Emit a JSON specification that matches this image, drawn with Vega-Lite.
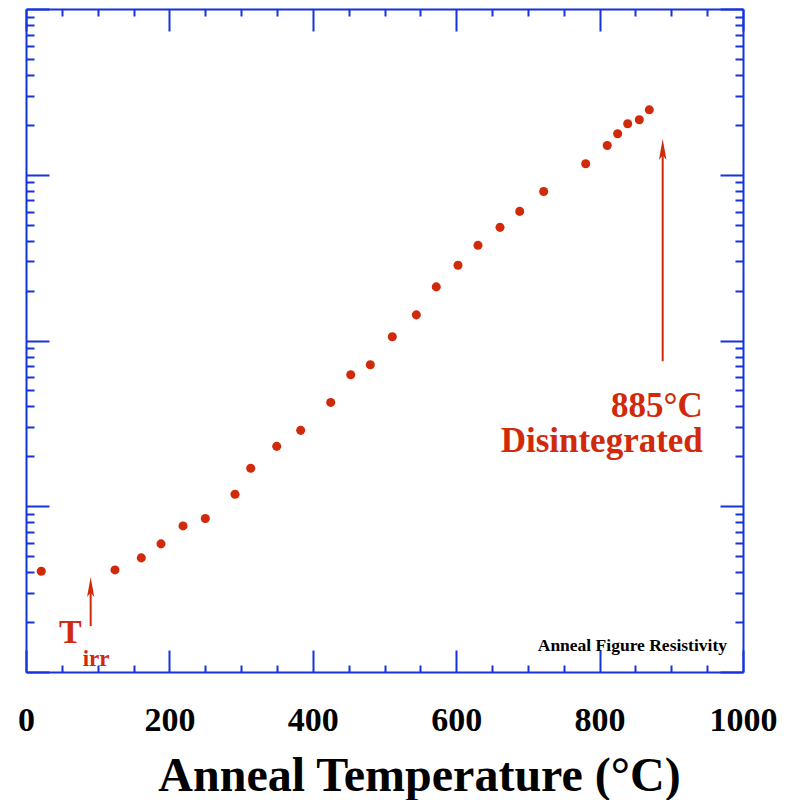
{
  "$schema": "https://vega.github.io/schema/vega-lite/v6.json",
  "autosize": {"type": "none"},
  "padding": {"left": 26, "top": 9, "right": 53, "bottom": 128},
  "width": 717,
  "height": 663,
  "background": "white",
  "config": {
    "view": {"stroke": null},
    "axis": {
      "grid": false,
      "domainColor": "#1533dd",
      "domainWidth": 2,
      "tickColor": "#1533dd",
      "tickWidth": 2,
      "labelFont": "Liberation Serif",
      "labelFontWeight": "bold",
      "labelColor": "black",
      "titleFont": "Liberation Serif",
      "titleFontWeight": "bold",
      "titleColor": "black"
    }
  },
  "resolve": {"axis": {"x": "independent", "y": "independent"}},
  "layer": [
    {
      "data": {
        "values": [
          {"temperature": 21.3, "resistivity": 4.05},
          {"temperature": 124.1, "resistivity": 4.13},
          {"temperature": 160.8, "resistivity": 4.88},
          {"temperature": 188.3, "resistivity": 5.93},
          {"temperature": 219, "resistivity": 7.61},
          {"temperature": 250.1, "resistivity": 8.43},
          {"temperature": 291.5, "resistivity": 11.81},
          {"temperature": 313.4, "resistivity": 16.94},
          {"temperature": 349.7, "resistivity": 22.98},
          {"temperature": 383.1, "resistivity": 28.7},
          {"temperature": 425, "resistivity": 42.31},
          {"temperature": 452.9, "resistivity": 62.14},
          {"temperature": 480.2, "resistivity": 71.38},
          {"temperature": 510.9, "resistivity": 105.3},
          {"temperature": 544.4, "resistivity": 142.8},
          {"temperature": 572.2, "resistivity": 210.6},
          {"temperature": 602.5, "resistivity": 284.2},
          {"temperature": 630.4, "resistivity": 375.1},
          {"temperature": 661.1, "resistivity": 481.5},
          {"temperature": 688.6, "resistivity": 601},
          {"temperature": 722, "resistivity": 793},
          {"temperature": 780.6, "resistivity": 1165},
          {"temperature": 810.7, "resistivity": 1501},
          {"temperature": 825.2, "resistivity": 1766},
          {"temperature": 839.2, "resistivity": 2029},
          {"temperature": 855.4, "resistivity": 2145},
          {"temperature": 869.3, "resistivity": 2464}
        ]
      },
      "mark": {"type": "circle", "size": 82, "color": "#d12a0b", "opacity": 1},
      "encoding": {
        "x": {
          "field": "temperature", "type": "quantitative",
          "scale": {"domain": [0, 1000], "nice": false, "zero": false},
          "axis": {
            "orient": "bottom",
            "values": [0,50,100,150,200,250,300,350,400,450,500,550,600,650,700,750,800,850,900,950,1000],
            "tickSize": {"condition": {"test": "datum.value % 200 === 0", "value": -22}, "value": -7},
            "format": "d",
            "labelExpr": "datum.value % 200 === 0 ? datum.label : ''",
            "labelFontSize": 34,
            "labelPadding": 53,
            "labelFlush": false,
            "labelOverlap": false,
            "title": "Anneal Temperature (°C)",
            "titleFontSize": 48,
            "titleX": 393,
            "titleY": 118,
            "titleAlign": "center",
            "titleBaseline": "alphabetic"
          }
        },
        "y": {
          "field": "resistivity", "type": "quantitative",
          "scale": {"type": "log", "domain": [1, 10000], "nice": false},
          "axis": {
            "orient": "left",
            "values": [1,2,3,4,5,6,7,8,9,10,20,30,40,50,60,70,80,90,100,200,300,400,500,600,700,800,900,1000,2000,3000,4000,5000,6000,7000,8000,9000,10000],
            "tickSize": {"condition": {"test": "datum.value == 1 || datum.value == 10 || datum.value == 100 || datum.value == 1000 || datum.value == 10000", "value": -23}, "value": -8},
            "labels": false,
            "title": null
          }
        }
      }
    },
    {
      "data": {"values": [{}]},
      "mark": {"type": "rule", "color": "#d12a0b", "strokeWidth": 2},
      "encoding": {
        "x": {
          "datum": 888, "type": "quantitative",
          "scale": {"domain": [0, 1000], "nice": false, "zero": false},
          "axis": {
            "orient": "top",
            "values": [0,50,100,150,200,250,300,350,400,450,500,550,600,650,700,750,800,850,900,950,1000],
            "tickSize": {"condition": {"test": "datum.value % 200 === 0", "value": -22}, "value": -7},
            "labels": false,
            "title": null
          }
        },
        "y": {
          "datum": 75, "type": "quantitative",
          "scale": {"type": "log", "domain": [1, 10000], "nice": false},
          "axis": {
            "orient": "right",
            "values": [1,2,3,4,5,6,7,8,9,10,20,30,40,50,60,70,80,90,100,200,300,400,500,600,700,800,900,1000,2000,3000,4000,5000,6000,7000,8000,9000,10000],
            "tickSize": {"condition": {"test": "datum.value == 1 || datum.value == 10 || datum.value == 100 || datum.value == 1000 || datum.value == 10000", "value": -23}, "value": -8},
            "labels": false,
            "title": null
          }
        },
        "y2": {"datum": 1360}
      }
    },
    {
      "data": {"values": [{}]},
      "mark": {"type": "point", "shape": "M0,-1L0.36,1L0,0.55L-0.36,1Z", "size": 441, "filled": true, "color": "#d12a0b", "opacity": 1, "strokeWidth": 0},
      "encoding": {
        "x": {"datum": 888, "type": "quantitative", "scale": {"domain": [0, 1000], "nice": false, "zero": false}, "axis": null},
        "y": {"datum": 1419, "type": "quantitative", "scale": {"type": "log", "domain": [1, 10000], "nice": false}, "axis": null}
      }
    },
    {
      "data": {"values": [{}]},
      "mark": {"type": "rule", "color": "#d12a0b", "strokeWidth": 2},
      "encoding": {
        "x": {"datum": 90.2, "type": "quantitative", "scale": {"domain": [0, 1000], "nice": false, "zero": false}, "axis": null},
        "y": {"datum": 1.893, "type": "quantitative", "scale": {"type": "log", "domain": [1, 10000], "nice": false}, "axis": null},
        "y2": {"datum": 3.2}
      }
    },
    {
      "data": {"values": [{}]},
      "mark": {"type": "point", "shape": "M0,-1L0.36,1L0,0.55L-0.36,1Z", "size": 400, "filled": true, "color": "#d12a0b", "opacity": 1, "strokeWidth": 0},
      "encoding": {
        "x": {"datum": 90.2, "type": "quantitative", "scale": {"domain": [0, 1000], "nice": false, "zero": false}, "axis": null},
        "y": {"datum": 3.26, "type": "quantitative", "scale": {"type": "log", "domain": [1, 10000], "nice": false}, "axis": null}
      }
    },
    {
      "data": {"values": [{}]},
      "mark": {"type": "text", "text": "T", "align": "left", "baseline": "alphabetic", "font": "Liberation Serif", "fontWeight": "bold", "fontSize": 34, "color": "#d12a0b"},
      "encoding": {
        "x": {"datum": 46, "type": "quantitative", "scale": {"domain": [0, 1000], "nice": false, "zero": false}, "axis": null},
        "y": {"datum": 1.501, "type": "quantitative", "scale": {"type": "log", "domain": [1, 10000], "nice": false}, "axis": null}
      }
    },
    {
      "data": {"values": [{}]},
      "mark": {"type": "text", "text": "irr", "align": "left", "baseline": "alphabetic", "font": "Liberation Serif", "fontWeight": "bold", "fontSize": 23, "color": "#d12a0b"},
      "encoding": {
        "x": {"datum": 79, "type": "quantitative", "scale": {"domain": [0, 1000], "nice": false, "zero": false}, "axis": null},
        "y": {"datum": 1.087, "type": "quantitative", "scale": {"type": "log", "domain": [1, 10000], "nice": false}, "axis": null}
      }
    },
    {
      "data": {"values": [{}]},
      "mark": {"type": "text", "text": "885°C", "align": "right", "baseline": "alphabetic", "font": "Liberation Serif", "fontWeight": "bold", "fontSize": 35, "color": "#d12a0b"},
      "encoding": {
        "x": {"datum": 944, "type": "quantitative", "scale": {"domain": [0, 1000], "nice": false, "zero": false}, "axis": null},
        "y": {"datum": 34.4, "type": "quantitative", "scale": {"type": "log", "domain": [1, 10000], "nice": false}, "axis": null}
      }
    },
    {
      "data": {"values": [{}]},
      "mark": {"type": "text", "text": "Disintegrated", "align": "right", "baseline": "alphabetic", "font": "Liberation Serif", "fontWeight": "bold", "fontSize": 35, "color": "#d12a0b"},
      "encoding": {
        "x": {"datum": 944, "type": "quantitative", "scale": {"domain": [0, 1000], "nice": false, "zero": false}, "axis": null},
        "y": {"datum": 21.2, "type": "quantitative", "scale": {"type": "log", "domain": [1, 10000], "nice": false}, "axis": null}
      }
    },
    {
      "data": {"values": [{}]},
      "mark": {"type": "text", "text": "Anneal Figure Resistivity", "align": "right", "baseline": "alphabetic", "font": "Liberation Serif", "fontWeight": "bold", "fontSize": 17.5, "color": "black"},
      "encoding": {
        "x": {"datum": 977.7, "type": "quantitative", "scale": {"domain": [0, 1000], "nice": false, "zero": false}, "axis": null},
        "y": {"datum": 1.338, "type": "quantitative", "scale": {"type": "log", "domain": [1, 10000], "nice": false}, "axis": null}
      }
    }
  ]
}
